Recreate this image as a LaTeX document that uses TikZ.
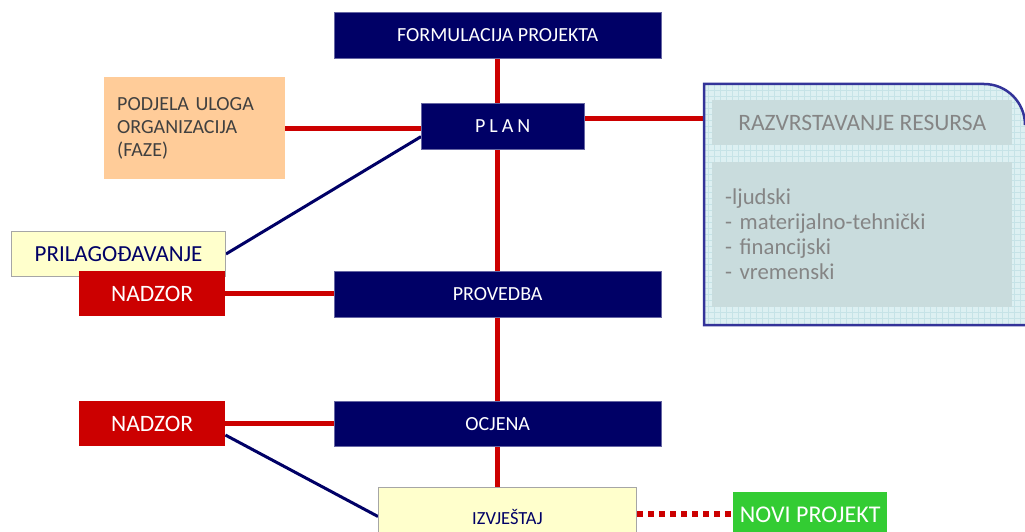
\documentclass[tikz,border=0pt]{standalone}
\usepackage{fontspec}
\setmainfont{Carlito}
\usetikzlibrary{calc,backgrounds}
\definecolor{navy}{HTML}{000066}
\definecolor{rline}{HTML}{CC0000}
\definecolor{peach}{HTML}{FFCC99}
\definecolor{ylw}{HTML}{FFFFCC}
\definecolor{grn}{HTML}{33CC33}
\definecolor{resfill}{HTML}{DDF0F2}
\definecolor{resgrid}{HTML}{C6E3E7}
\definecolor{resborder}{HTML}{333399}
\definecolor{resinner}{HTML}{C9DCDD}
\definecolor{restext}{HTML}{858585}
\begin{document}
\begin{tikzpicture}[x=1pt,y=-1pt,
  box/.style={anchor=north west, inner sep=0pt, align=center},
  navybox/.style={box, fill=navy, draw=navy!60!white, text=white, font=\fontsize{20}{22}\selectfont},
  redbox/.style={box, fill=rline, text=white, minimum width=146pt, minimum height=45pt, font=\fontsize{23.5}{26}\selectfont},
  ylwbox/.style={box, fill=ylw, draw=gray!70, line width=1pt, text=navy},
  innerbox/.style={box, fill=resinner, text=restext, minimum width=300pt},
  redline/.style={draw=rline, line width=5pt},
  blueline/.style={draw=navy, line width=3pt},
  dotline/.style={draw=rline, line width=6pt, dash pattern=on 6pt off 5pt}]
\useasboundingbox (0,0) rectangle (1025,532);

% right resource panel
\path[fill=resfill] (704,84) -- (984,84) to[out=0,in=90] (1025,125) -- (1025,325) -- (704,325) -- cycle;
\begin{scope}
  \clip (704,84) -- (984,84) to[out=0,in=90] (1025,125) -- (1025,325) -- (704,325) -- cycle;
  \draw[resgrid, line width=0.4pt, step=6pt] (700,80) grid (1030,330);
\end{scope}
\draw[resborder, line width=2.5pt] (1025,325) -- (704,325) -- (704,84) -- (984,84) to[out=0,in=90] (1025,125);
\coordinate (resL) at (704,119);
\node[innerbox, minimum height=45pt, font=\fontsize{23.5}{26}\selectfont] (resh) at (712,100) {RAZVRSTAVANJE RESURSA};
\node[innerbox, minimum height=145pt, text width=274pt, inner xsep=13pt, align=left, font=\fontsize{22.7}{25}\selectfont] (resl) at (712,162)
  {-ljudski\\ - materijalno-tehnički\\ - financijski\\ - vremenski};

% main column
\node[navybox, minimum width=327pt, minimum height=46pt] (formul) at (334,12) {FORMULACIJA PROJEKTA};
\node[navybox, minimum width=163pt, minimum height=46pt] (plan) at (421,103) {P\hspace{4pt}L\hspace{4pt}A\hspace{4pt}N};
\node[navybox, minimum width=327pt, minimum height=46pt] (provedba) at (334,271) {PROVEDBA};
\node[navybox, minimum width=327pt, minimum height=45pt] (ocjena) at (334,401) {OCJENA};
\node[ylwbox, minimum width=258pt, minimum height=58pt, font=\fontsize{18.5}{20}\selectfont] (izv) at (378,487) {IZVJEŠTAJ};

% left side
\node[box, fill=peach, minimum width=181pt, minimum height=102pt, text width=155pt, inner xsep=13pt, align=left, text=black!75, font=\fontsize{20}{23}\selectfont] (podjela) at (104,77)
  {PODJELA ULOGA\\ ORGANIZACIJA\\ (FAZE)};
\node[ylwbox, minimum width=214pt, minimum height=45pt, font=\fontsize{23}{26}\selectfont] (prilag) at (11,231) {PRILAGOĐAVANJE};
\node[redbox] (nadzorA) at (79,271) {NADZOR};
\node[redbox] (nadzorB) at (79,401) {NADZOR};

% new project
\node[box, fill=grn, text=white, minimum width=154pt, minimum height=45pt, font=\fontsize{24}{26}\selectfont] (novi) at (733,492) {NOVI PROJEKT};

\begin{pgfonlayer}{background}
  \draw[redline] (formul.south) -- (formul.south |- plan.north);
  \draw[redline] (formul.south |- plan.south) -- (formul.south |- provedba.north);
  \draw[redline] (formul.south |- provedba.south) -- (formul.south |- ocjena.north);
  \draw[redline] (formul.south |- ocjena.south) -- (formul.south |- izv.north);
  \draw[redline] (podjela.east) -- (podjela.east -| plan.west);
  \draw[redline] (plan.east |- resL) -- (resL);
  \draw[redline] (nadzorA.east) -- (nadzorA.east -| provedba.west);
  \draw[redline] (nadzorB.east) -- (nadzorB.east -| ocjena.west);
  \draw[blueline] (prilag.east) -- ($(plan.west)!0.45!(plan.south west)$);
  \draw[blueline] ($(nadzorB.east)!0.5!(nadzorB.south east)$) -- (izv.west);
  \draw[dotline] ([yshift=3pt]izv.east) -- ([yshift=3pt]izv.east -| novi.west);
\end{pgfonlayer}
\end{tikzpicture}
\end{document}
